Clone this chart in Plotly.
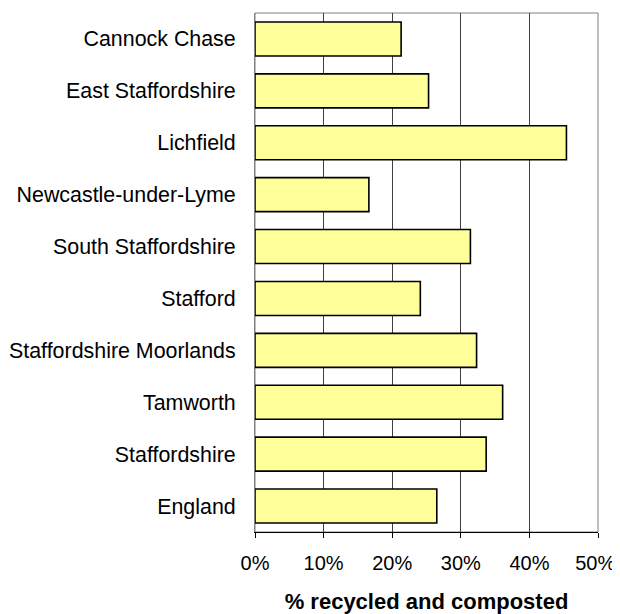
import plotly.graph_objects as go

categories = ["Cannock Chase", "East Staffordshire", "Lichfield", "Newcastle-under-Lyme",
              "South Staffordshire", "Stafford", "Staffordshire Moorlands", "Tamworth",
              "Staffordshire", "England"]
values = [21.3, 25.3, 45.4, 16.6, 31.4, 24.1, 32.3, 36.1, 33.7, 26.5]
tick_vals = [0, 10, 20, 30, 40, 50]
tick_text = ["0%", "10%", "20%", "30%", "40%", "50%\u00a0"]

FONT = "Liberation Sans, Arial, sans-serif"

fig = go.Figure(go.Bar(
    x=values, y=categories, orientation="h",
    marker=dict(color="#FFFF99", line=dict(color="black", width=1.6)),
))

# page body has an 8px margin, so the figure is sized/offset to compensate
fig.update_layout(
    width=612, height=606,
    margin=dict(l=247, r=22, t=5, b=82),
    paper_bgcolor="white", plot_bgcolor="white",
    bargap=0.345,
    showlegend=False,
    font=dict(family=FONT, size=21.4, color="black"),
    xaxis=dict(
        range=[0, 50], tickvals=tick_vals, ticktext=tick_text,
        automargin=False, ticklabeloverflow="allow",
        showgrid=True, gridcolor="#404040", gridwidth=1,
        zeroline=False,
        showline=True, linecolor="black", linewidth=1,
        ticks="outside", ticklen=5, tickcolor="black",
        ticklabelstandoff=8,
        tickfont=dict(family=FONT, size=20, color="black"),
        title=dict(text="<b>% recycled and composted</b>",
                   font=dict(family=FONT, size=22, color="black"), standoff=28),
    ),
    yaxis=dict(
        autorange="reversed", automargin=False,
        showline=True, linecolor="#808080", linewidth=1,
        showgrid=False, ticks="", ticklabelstandoff=14,
        tickfont=dict(family=FONT, size=21.4, color="black"),
    ),
    shapes=[dict(type="rect", xref="paper", yref="paper", x0=0, x1=1, y0=0, y1=1,
                 line=dict(color="#808080", width=1), layer="below")],
)

fig.write_html("out.html")
